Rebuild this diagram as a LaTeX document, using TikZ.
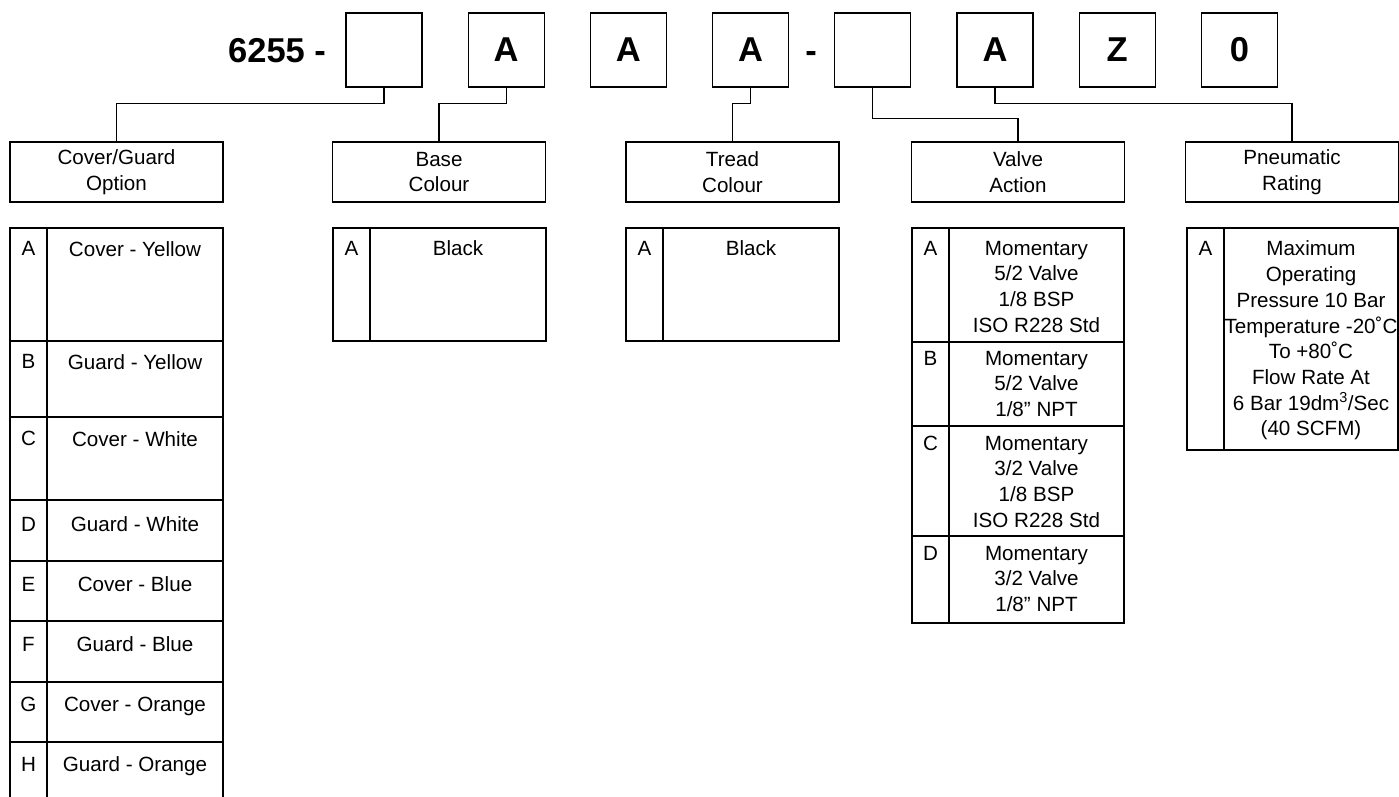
\documentclass[tikz,border=0pt]{standalone}
\usepackage{fontspec}
\setmainfont{Liberation Sans}
\tikzset{
  txt/.style={font=\fontsize{20.6}{25.7}\selectfont},
  bigtxt/.style={font=\fontsize{34.5}{40}\selectfont\bfseries},
  codebox/.style={draw, line width=1.25pt, minimum width=76pt, minimum height=74pt, inner sep=0pt, bigtxt},
  head/.style={draw, line width=1.25pt, minimum width=213pt, minimum height=60pt, inner sep=0pt, align=center, txt},
  cell/.style={anchor=north, inner sep=0pt, align=center, txt},
  conn/.style={line width=1.15pt},
  tbl/.style={line width=1.25pt},
}
\begin{document}
\begin{tikzpicture}[x=1pt,y=-1pt]
\useasboundingbox (0,0) rectangle (1399,797);

% code row
\node[anchor=base west, inner sep=0pt, bigtxt] (code) at (228,63) {6255 -};
\node[codebox] (b1) at (384,50) {};
\node[codebox] (b2) at (506.2,50) {A};
\node[codebox] (b3) at (628.4,50) {A};
\node[codebox] (b4) at (750.6,50) {A};
\node[anchor=base, inner sep=0pt, bigtxt] (dash) at (811,63) {-};
\node[codebox] (b5) at (872.8,50) {};
\node[codebox] (b6) at (995,50) {A};
\node[codebox] (b7) at (1117.2,50) {Z};
\node[codebox] (b8) at (1239.4,50) {0};

% headers
\node[head] (hcover) at (116.5,172) {Cover/Guard\\Option};
\node[head] (hbase) at (439,172) {Base\\Colour};
\node[head] (htread) at (732.5,172) {Tread\\Colour};
\node[head] (hvalve) at (1018,172) {Valve\\Action};
\node[head] (hpneu) at (1292,172) {Pneumatic\\Rating};

% connectors
\draw[conn] (b1.south) -- ++(0,16) -| (hcover.north);
\draw[conn] (b2.south) -- ++(0,16) -| (hbase.north);
\draw[conn] (b4.south) -- ++(0,16) -| (htread.north);
\draw[conn] (b5.south) -- ++(0,31) -| (hvalve.north);
\draw[conn] (b6.south) -- ++(0,16) -| (hpneu.north);

% Cover/Guard table
\draw[tbl] (10,797) -- (10,228) -- (223,228) -- (223,797);
\draw[tbl] (47,228) -- (47,797);
\foreach \y in {341,417,500,561,621,682,742} \draw[tbl] (10,\y) -- (223,\y);
\node[cell] (cA) at (28.5,241.1) {A};   \node[cell] (tA) at (135,241.1) {Cover - Yellow};
\node[cell] (cB) at (28.5,354.5) {B};   \node[cell] (tB) at (135,354.5) {Guard - Yellow};
\node[cell] (cC) at (28.5,431.1) {C};   \node[cell] (tC) at (135,431.1) {Cover - White};
\node[cell] (cD) at (28.5,516.8) {D};   \node[cell] (tD) at (135,516.8) {Guard - White};
\node[cell] (cE) at (28.5,576.8) {E};   \node[cell] (tE) at (135,576.8) {Cover - Blue};
\node[cell] (cF) at (28.5,636.8) {F};   \node[cell] (tF) at (135,636.8) {Guard - Blue};
\node[cell] (cG) at (28.5,696.8) {G};   \node[cell] (tG) at (135,696.8) {Cover - Orange};
\node[cell] (cH) at (28.5,756.8) {H};   \node[cell] (tH) at (135,756.8) {Guard - Orange};

% Base table
\draw[tbl] (333,228) rectangle (546,341);
\draw[tbl] (370,228) -- (370,341);
\node[cell] (bA) at (351.5,240.8) {A};
\node[cell] (bT) at (458,240.8) {Black};

% Tread table
\draw[tbl] (626,228) rectangle (839,341);
\draw[tbl] (663,228) -- (663,341);
\node[cell] (trA) at (644.5,240.8) {A};
\node[cell] (trT) at (751,240.8) {Black};

% Valve table
\draw[tbl] (912,228) rectangle (1124,623);
\draw[tbl] (949,228) -- (949,623);
\foreach \y in {342,426,536} \draw[tbl] (912,\y) -- (1124,\y);
\node[cell] (vA) at (930.5,240.8) {A};
\node[cell] (vAt) at (1036.5,240.8) {Momentary\\5/2 Valve\\1/8 BSP\\ISO R228 Std};
\node[cell] (vB) at (930.5,350.8) {B};
\node[cell] (vBt) at (1036.5,350.8) {Momentary\\5/2 Valve\\1/8” NPT};
\node[cell] (vC) at (930.5,435.8) {C};
\node[cell] (vCt) at (1036.5,435.8) {Momentary\\3/2 Valve\\1/8 BSP\\ISO R228 Std};
\node[cell] (vD) at (930.5,545.8) {D};
\node[cell] (vDt) at (1036.5,545.8) {Momentary\\3/2 Valve\\1/8” NPT};

% Pneumatic table
\draw[tbl] (1187,228) rectangle (1398,450);
\draw[tbl] (1224,228) -- (1224,450);
\node[cell] (pA) at (1205.5,240.8) {A};
\node[cell] (pAt) at (1311,240.8) {Maximum\\Operating\\Pressure 10 Bar\\Temperature -20˚C\\To +80˚C\\Flow Rate At\\6 Bar 19dm\textsuperscript{3}/Sec\\(40 SCFM)};
\end{tikzpicture}
\end{document}
